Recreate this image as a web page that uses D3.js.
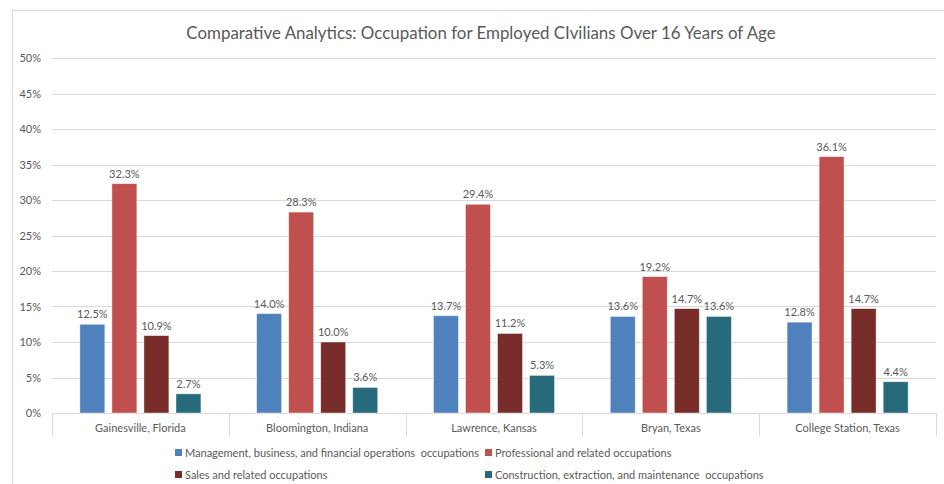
<!DOCTYPE html>
<html>
<head>
<meta charset="utf-8">
<script src="https://cdn.jsdelivr.net/npm/d3@7"></script>
<style>
  html, body { margin: 0; padding: 0; background: #fff; }
  svg { display: block; font-family: Lato, "Open Sans", sans-serif; }
</style>
</head>
<body>
<svg id="chart" width="944" height="484"></svg>
<script>
const title = "Comparative Analytics: Occupation for Employed CIvilians Over 16 Years of Age";
const categories = ["Gainesville, Florida", "Bloomington, Indiana", "Lawrence, Kansas", "Bryan, Texas", "College Station, Texas"];
const seriesNames = [
  "Management, business, and financial operations  occupations",
  "Professional and related occupations",
  "Sales and related occupations",
  "Construction, extraction, and maintenance  occupations"
];
const management   = [12.5, 14.0, 13.7, 13.6, 12.8];
const professional = [32.3, 28.3, 29.4, 19.2, 36.1];
const sales        = [10.9, 10.0, 11.2, 14.7, 14.7];
const construction = [2.7, 3.6, 5.3, 13.6, 4.4];
const yTicks = [0, 5, 10, 15, 20, 25, 30, 35, 40, 45, 50];
const colors = ["#4f81bd", "#c0504d", "#772c2a", "#276a7c"];

const seriesValues = [management, professional, sales, construction];

const svg = d3.select("#chart");
const W = 944, H = 484;
const plot = { left: 52, right: 936, top: 58, bottom: 413 };

// outer chart border
svg.append("rect")
  .attr("x", 12.5).attr("y", 10.5)
  .attr("width", W + 20).attr("height", H + 20)
  .attr("fill", "none").attr("stroke", "#d9d9d9").attr("stroke-width", 1);

// title
svg.append("text")
  .attr("x", 481).attr("y", 39)
  .attr("text-anchor", "middle")
  .attr("font-size", 16.9)
  .attr("fill", "#595959")
  .text(title);

const y = d3.scaleLinear().domain([0, 50]).range([plot.bottom, plot.top]);
const x0 = d3.scaleBand().domain(categories).range([plot.left, plot.right]).paddingInner(0).paddingOuter(0);
const x1 = d3.scaleBand().domain(d3.range(4)).range([0, x0.bandwidth()]).paddingInner(0.22).paddingOuter(0.87);

// gridlines
svg.append("g").selectAll("line")
  .data(yTicks.filter(t => t > 0))
  .join("line")
  .attr("x1", plot.left).attr("x2", plot.right)
  .attr("y1", d => Math.round(y(d)) + 0.5).attr("y2", d => Math.round(y(d)) + 0.5)
  .attr("stroke", "#d9d9d9").attr("stroke-width", 1);

// y axis labels
const yAxis = d3.axisLeft(y).tickValues(yTicks).tickSize(0).tickPadding(0).tickFormat(d => d + "%");
const yg = svg.append("g").attr("transform", `translate(${plot.left - 11},0)`).call(yAxis);
yg.select(".domain").remove();
yg.selectAll("text").attr("font-size", 11).attr("fill", "#595959").attr("font-family", "Lato, sans-serif");

// x axis with category dividers
const xg = svg.append("g");
xg.append("line")
  .attr("x1", plot.left).attr("x2", plot.right)
  .attr("y1", plot.bottom + 0.5).attr("y2", plot.bottom + 0.5)
  .attr("stroke", "#d9d9d9");
const dividers = categories.map(c => x0(c)).concat([plot.right]);
xg.selectAll("line.div")
  .data(dividers)
  .join("line")
  .attr("class", "div")
  .attr("x1", d => Math.round(d) + 0.5).attr("x2", d => Math.round(d) + 0.5)
  .attr("y1", plot.bottom).attr("y2", plot.bottom + 23)
  .attr("stroke", "#d9d9d9");
xg.selectAll("text.cat")
  .data(categories)
  .join("text")
  .attr("class", "cat")
  .attr("x", d => x0(d) + x0.bandwidth() / 2)
  .attr("y", plot.bottom + 19)
  .attr("text-anchor", "middle")
  .attr("font-size", 11)
  .attr("fill", "#595959")
  .text(d => d);

// bars
const groups = svg.append("g").selectAll("g")
  .data(categories)
  .join("g")
  .attr("transform", d => `translate(${x0(d)},0)`);

groups.selectAll("rect")
  .data((c, ci) => seriesValues.map((vals, si) => ({ si, v: vals[ci] })))
  .join("rect")
  .attr("x", d => x1(d.si))
  .attr("width", x1.bandwidth())
  .attr("y", d => y(d.v))
  .attr("height", d => y(0) - y(d.v))
  .attr("fill", d => colors[d.si])
  .attr("stroke", "#ffffff")
  .attr("stroke-opacity", 0.6)
  .attr("stroke-width", 0.75);

groups.selectAll("text")
  .data((c, ci) => seriesValues.map((vals, si) => ({ si, v: vals[ci] })))
  .join("text")
  .attr("x", d => x1(d.si) + x1.bandwidth() / 2)
  .attr("y", d => y(d.v) - 6)
  .attr("text-anchor", "middle")
  .attr("font-size", 11)
  .attr("fill", "#595959")
  .text(d => d.v.toFixed(1) + "%");

// legend
const legendPos = [
  { x: 175, y: 453 }, { x: 485, y: 453 },
  { x: 175, y: 475 }, { x: 485, y: 475 }
];
const lg = svg.append("g").selectAll("g")
  .data(seriesNames)
  .join("g")
  .attr("transform", (d, i) => `translate(${legendPos[i].x},${legendPos[i].y})`);
lg.append("rect")
  .attr("x", 0).attr("y", -4).attr("width", 7).attr("height", 7)
  .attr("fill", (d, i) => colors[i]);
lg.append("text")
  .attr("x", 10).attr("y", 4)
  .attr("font-size", 11)
  .attr("fill", "#595959")
  .style("white-space", "pre")
  .text(d => d);
</script>
</body>
</html>
